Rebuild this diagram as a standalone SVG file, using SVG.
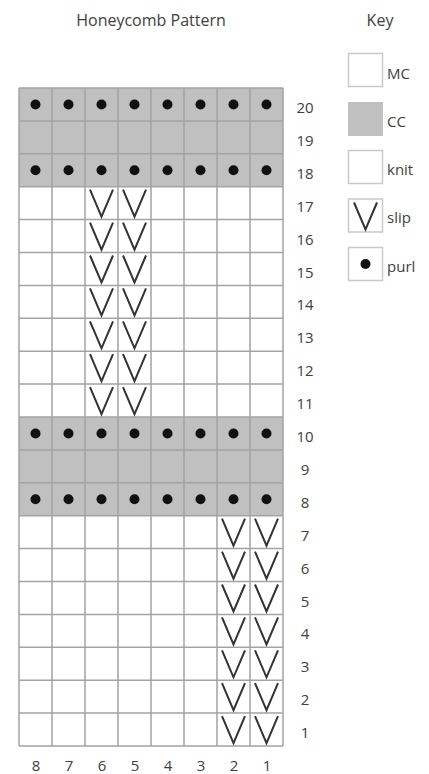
<svg xmlns="http://www.w3.org/2000/svg" xmlns:xlink="http://www.w3.org/1999/xlink" width="429" height="774" viewBox="0 0 429 774">
<style>
text{font-family:"Open Sans","Noto Sans","Liberation Sans",sans-serif;font-size:15px;fill:#404040}
.ttl{font-size:16px}
.num{text-anchor:middle}
.cc{fill:#c0c0c0}
.grid{stroke:#a3a3a3;stroke-width:1.5;fill:none}
.keybox{fill:#fff;stroke:#c9c9c9;stroke-width:1.5}
.v{fill:none;stroke:#333;stroke-width:2}
.dot{fill:#111}
</style>
<defs>
<path id="vmark" class="v" d="M5 3 L16.5 30 L28 3"/>
<circle id="pdot" class="dot" cx="16.5" cy="16.45" r="5"/>
</defs>
<rect width="429" height="774" fill="#fff"/>
<g id="title"><text x="151" y="26" class="num ttl">Honeycomb Pattern</text></g>
<g id="key-title"><text x="380" y="26" class="num ttl">Key</text></g>

<g id="chart">
<rect class="cc" x="19" y="88" width="264" height="98.7"/>
<rect class="cc" x="19" y="417" width="264" height="98.7"/>
<g id="grid-lines" class="grid">
<path d="M19 88H283M19 120.9H283M19 153.8H283M19 186.7H283M19 219.6H283M19 252.5H283M19 285.4H283M19 318.3H283M19 351.2H283M19 384.1H283M19 417H283M19 449.9H283M19 482.8H283M19 515.7H283M19 548.6H283M19 581.5H283M19 614.4H283M19 647.3H283M19 680.2H283M19 713.1H283M19 746H283"/>
<path d="M19 88V746M52 88V746M85 88V746M118 88V746M151 88V746M184 88V746M217 88V746M250 88V746M283 88V746"/>
</g>
<g id="purls">
<use xlink:href="#pdot" x="19" y="88"/><use xlink:href="#pdot" x="52" y="88"/><use xlink:href="#pdot" x="85" y="88"/><use xlink:href="#pdot" x="118" y="88"/><use xlink:href="#pdot" x="151" y="88"/><use xlink:href="#pdot" x="184" y="88"/><use xlink:href="#pdot" x="217" y="88"/><use xlink:href="#pdot" x="250" y="88"/>
<use xlink:href="#pdot" x="19" y="153.8"/><use xlink:href="#pdot" x="52" y="153.8"/><use xlink:href="#pdot" x="85" y="153.8"/><use xlink:href="#pdot" x="118" y="153.8"/><use xlink:href="#pdot" x="151" y="153.8"/><use xlink:href="#pdot" x="184" y="153.8"/><use xlink:href="#pdot" x="217" y="153.8"/><use xlink:href="#pdot" x="250" y="153.8"/>
<use xlink:href="#pdot" x="19" y="417"/><use xlink:href="#pdot" x="52" y="417"/><use xlink:href="#pdot" x="85" y="417"/><use xlink:href="#pdot" x="118" y="417"/><use xlink:href="#pdot" x="151" y="417"/><use xlink:href="#pdot" x="184" y="417"/><use xlink:href="#pdot" x="217" y="417"/><use xlink:href="#pdot" x="250" y="417"/>
<use xlink:href="#pdot" x="19" y="482.8"/><use xlink:href="#pdot" x="52" y="482.8"/><use xlink:href="#pdot" x="85" y="482.8"/><use xlink:href="#pdot" x="118" y="482.8"/><use xlink:href="#pdot" x="151" y="482.8"/><use xlink:href="#pdot" x="184" y="482.8"/><use xlink:href="#pdot" x="217" y="482.8"/><use xlink:href="#pdot" x="250" y="482.8"/>
</g>
<g id="slips">
<use xlink:href="#vmark" x="85" y="186.7"/><use xlink:href="#vmark" x="118" y="186.7"/>
<use xlink:href="#vmark" x="85" y="219.6"/><use xlink:href="#vmark" x="118" y="219.6"/>
<use xlink:href="#vmark" x="85" y="252.5"/><use xlink:href="#vmark" x="118" y="252.5"/>
<use xlink:href="#vmark" x="85" y="285.4"/><use xlink:href="#vmark" x="118" y="285.4"/>
<use xlink:href="#vmark" x="85" y="318.3"/><use xlink:href="#vmark" x="118" y="318.3"/>
<use xlink:href="#vmark" x="85" y="351.2"/><use xlink:href="#vmark" x="118" y="351.2"/>
<use xlink:href="#vmark" x="85" y="384.1"/><use xlink:href="#vmark" x="118" y="384.1"/>
<use xlink:href="#vmark" x="217" y="515.7"/><use xlink:href="#vmark" x="250" y="515.7"/>
<use xlink:href="#vmark" x="217" y="548.6"/><use xlink:href="#vmark" x="250" y="548.6"/>
<use xlink:href="#vmark" x="217" y="581.5"/><use xlink:href="#vmark" x="250" y="581.5"/>
<use xlink:href="#vmark" x="217" y="614.4"/><use xlink:href="#vmark" x="250" y="614.4"/>
<use xlink:href="#vmark" x="217" y="647.3"/><use xlink:href="#vmark" x="250" y="647.3"/>
<use xlink:href="#vmark" x="217" y="680.2"/><use xlink:href="#vmark" x="250" y="680.2"/>
<use xlink:href="#vmark" x="217" y="713.1"/><use xlink:href="#vmark" x="250" y="713.1"/>
</g>
</g>

<g id="row-labels">
<text class="num" x="305" y="113">20</text>
<text class="num" x="305" y="145.9">19</text>
<text class="num" x="305" y="178.8">18</text>
<text class="num" x="305" y="211.7">17</text>
<text class="num" x="305" y="244.6">16</text>
<text class="num" x="305" y="277.5">15</text>
<text class="num" x="305" y="310.4">14</text>
<text class="num" x="305" y="343.3">13</text>
<text class="num" x="305" y="376.2">12</text>
<text class="num" x="305" y="409.1">11</text>
<text class="num" x="305" y="442">10</text>
<text class="num" x="305" y="474.9">9</text>
<text class="num" x="305" y="507.8">8</text>
<text class="num" x="305" y="540.7">7</text>
<text class="num" x="305" y="573.6">6</text>
<text class="num" x="305" y="606.5">5</text>
<text class="num" x="305" y="639.4">4</text>
<text class="num" x="305" y="672.3">3</text>
<text class="num" x="305" y="705.2">2</text>
<text class="num" x="305" y="738.1">1</text>
</g>
<g id="col-labels">
<text class="num" x="36" y="771">8</text>
<text class="num" x="69" y="771">7</text>
<text class="num" x="102" y="771">6</text>
<text class="num" x="135" y="771">5</text>
<text class="num" x="168" y="771">4</text>
<text class="num" x="201" y="771">3</text>
<text class="num" x="234" y="771">2</text>
<text class="num" x="267" y="771">1</text>
</g>

<g id="key-mc"><rect class="keybox" x="348.5" y="53.5" width="34" height="33"/><text x="387" y="79">MC</text></g>
<g id="key-cc"><rect class="cc" x="348" y="102" width="35" height="34"/><text x="387" y="127">CC</text></g>
<g id="key-knit"><rect class="keybox" x="348.5" y="150.5" width="34" height="33"/><text x="387" y="175">knit</text></g>
<g id="key-slip"><rect class="keybox" x="348.5" y="199" width="34" height="33"/><use xlink:href="#vmark" x="349" y="199.5"/><text x="387" y="223">slip</text></g>
<g id="key-purl"><rect class="keybox" x="348.5" y="247.5" width="34" height="33"/><use xlink:href="#pdot" x="349" y="247.5"/><text x="387" y="272">purl</text></g>
</svg>
